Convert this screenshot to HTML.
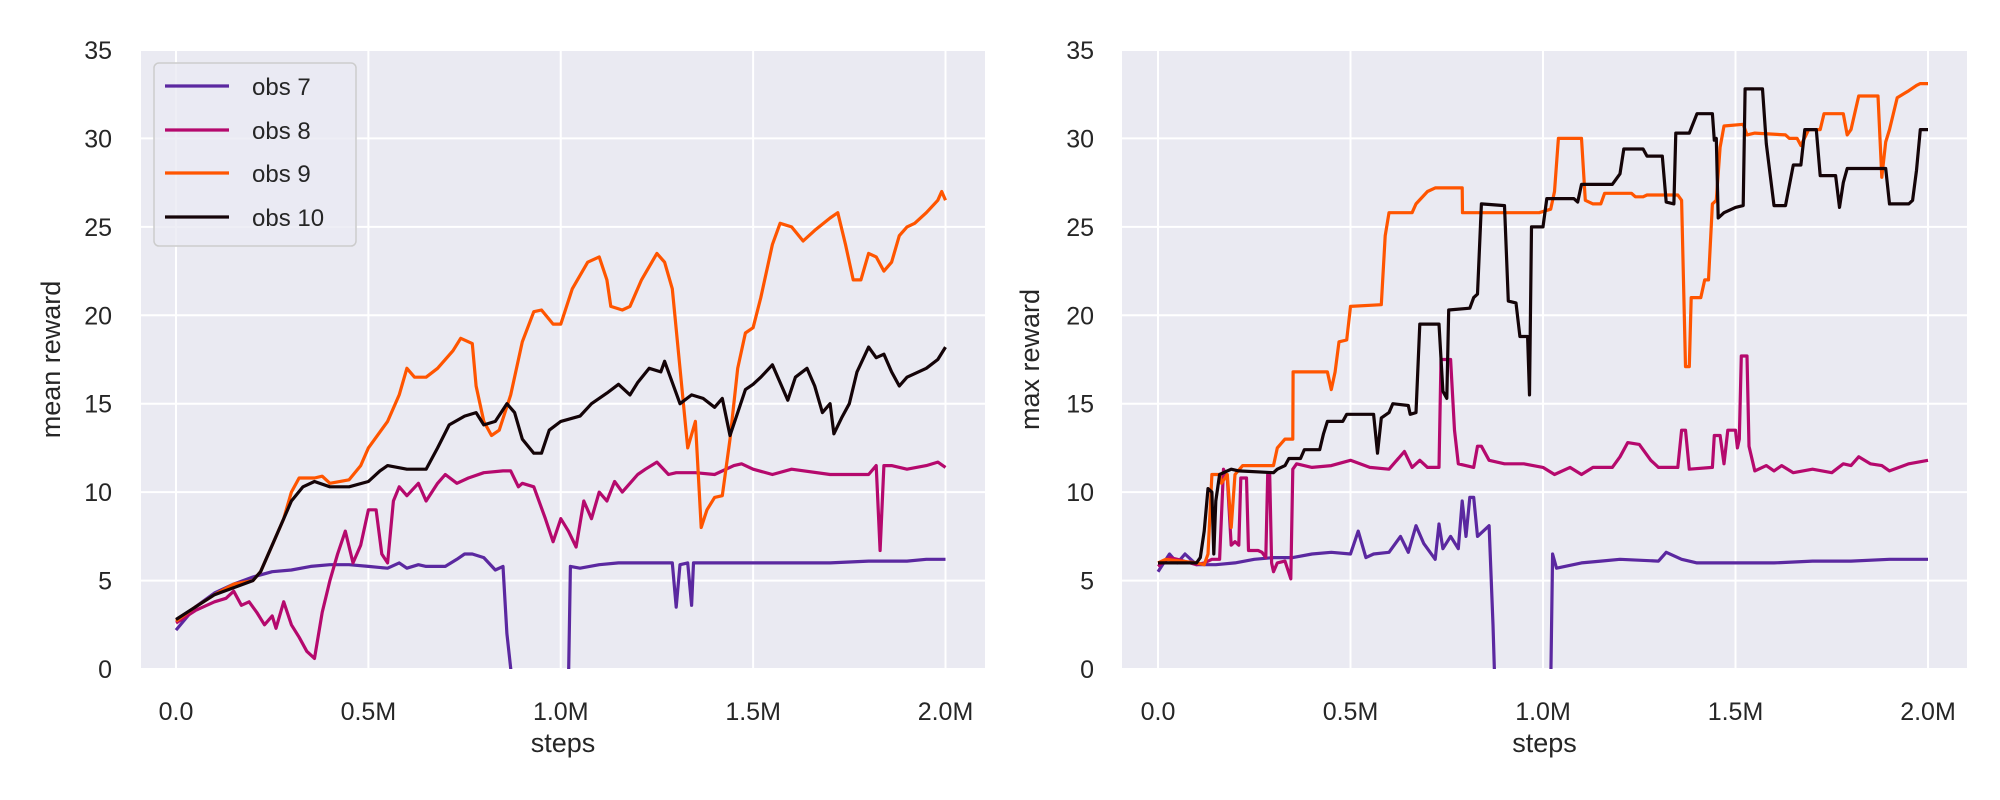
<!DOCTYPE html>
<html><head><meta charset="utf-8"><style>
html,body{margin:0;padding:0;background:#fff;}
svg{display:block;font-family:"Liberation Sans",sans-serif;}
</style></head><body>
<svg id="chart" width="2000" height="800" viewBox="0 0 2000 800"></svg>
<script>
const yTicks=[0,5,10,15,20,25,30,35];
const xTicks=[0,0.5,1.0,1.5,2.0];
const xTickLabels=["0.0","0.5M","1.0M","1.5M","2.0M"];
const seriesNames=["obs 7","obs 8","obs 9","obs 10"];
const seriesColors=["#5b28a0","#b5096d","#ff5500","#140408"];

// left: mean reward
const m7x=[0,0.05,0.1,0.15,0.2,0.25,0.3,0.35,0.4,0.45,0.5,0.55,0.58,0.6,0.63,0.65,0.7,0.73,0.75,0.77,0.8,0.83,0.85,0.86,0.875,1.02,1.025,1.05,1.1,1.15,1.2,1.29,1.3,1.31,1.33,1.34,1.345,1.4,1.5,1.6,1.7,1.8,1.9,1.95,2.0];
const m7y=[2.2,3.5,4.3,4.8,5.2,5.5,5.6,5.8,5.9,5.9,5.8,5.7,6.0,5.7,5.9,5.8,5.8,6.2,6.5,6.5,6.3,5.6,5.8,2.0,-1,-1,5.8,5.7,5.9,6.0,6.0,6.0,3.5,5.9,6.0,3.6,6.0,6.0,6.0,6.0,6.0,6.1,6.1,6.2,6.2];
const m8x=[0,0.05,0.1,0.13,0.15,0.17,0.19,0.21,0.23,0.25,0.26,0.28,0.3,0.32,0.34,0.36,0.38,0.4,0.42,0.44,0.46,0.48,0.5,0.52,0.535,0.55,0.565,0.58,0.6,0.63,0.65,0.68,0.7,0.73,0.76,0.8,0.85,0.87,0.89,0.9,0.93,0.96,0.98,1.0,1.02,1.04,1.06,1.08,1.1,1.12,1.14,1.16,1.2,1.22,1.25,1.28,1.3,1.35,1.4,1.45,1.47,1.5,1.55,1.6,1.7,1.8,1.82,1.83,1.84,1.86,1.9,1.95,1.98,2.0];
const m8y=[2.6,3.3,3.8,4.0,4.4,3.6,3.8,3.2,2.5,3.0,2.3,3.8,2.5,1.8,1.0,0.6,3.2,5.0,6.5,7.8,6.0,7.0,9.0,9.0,6.5,6.0,9.5,10.3,9.8,10.5,9.5,10.5,11,10.5,10.8,11.1,11.2,11.2,10.3,10.5,10.3,8.5,7.2,8.5,7.8,6.9,9.5,8.5,10,9.5,10.6,10,11,11.3,11.7,11.0,11.1,11.1,11.0,11.5,11.6,11.3,11,11.3,11.0,11.0,11.5,6.7,11.5,11.5,11.3,11.5,11.7,11.4];
const m9x=[0,0.05,0.1,0.15,0.2,0.22,0.25,0.28,0.3,0.32,0.36,0.38,0.4,0.45,0.48,0.5,0.55,0.58,0.6,0.62,0.65,0.68,0.72,0.74,0.77,0.78,0.8,0.82,0.84,0.87,0.9,0.93,0.95,0.98,1.0,1.03,1.07,1.1,1.12,1.13,1.16,1.18,1.21,1.25,1.27,1.29,1.31,1.33,1.35,1.365,1.38,1.4,1.42,1.44,1.46,1.48,1.5,1.52,1.55,1.57,1.6,1.63,1.66,1.7,1.72,1.74,1.76,1.78,1.8,1.82,1.84,1.86,1.88,1.9,1.92,1.95,1.98,1.99,2.0];
const m9y=[2.7,3.5,4.2,4.8,5.0,5.5,7.0,8.5,10.0,10.8,10.8,10.9,10.5,10.7,11.5,12.5,14,15.5,17,16.5,16.5,17,18,18.7,18.4,16,14,13.2,13.5,15.5,18.5,20.2,20.3,19.5,19.5,21.5,23,23.3,22,20.5,20.3,20.5,22,23.5,23,21.5,17,12.5,14,8,9,9.7,9.8,13,17,19,19.3,21,24,25.2,25,24.2,24.8,25.5,25.8,24,22,22,23.5,23.3,22.5,23,24.5,25,25.2,25.8,26.5,27,26.5];
const m10x=[0,0.1,0.2,0.22,0.25,0.28,0.3,0.33,0.36,0.4,0.45,0.5,0.53,0.55,0.6,0.65,0.68,0.71,0.75,0.78,0.8,0.83,0.86,0.88,0.9,0.93,0.95,0.97,1.0,1.05,1.08,1.12,1.15,1.18,1.2,1.23,1.26,1.27,1.29,1.31,1.34,1.37,1.4,1.42,1.44,1.46,1.48,1.5,1.52,1.55,1.57,1.59,1.61,1.64,1.66,1.68,1.7,1.71,1.73,1.75,1.77,1.8,1.82,1.84,1.86,1.88,1.9,1.95,1.98,2.0];
const m10y=[2.8,4.2,5.0,5.5,7,8.5,9.5,10.3,10.6,10.3,10.3,10.6,11.2,11.5,11.3,11.3,12.5,13.8,14.3,14.5,13.8,14,15,14.5,13,12.2,12.2,13.5,14,14.3,15,15.6,16.1,15.5,16.2,17,16.8,17.4,16.2,15,15.5,15.3,14.8,15.3,13.2,14.5,15.8,16.1,16.5,17.2,16.2,15.2,16.5,17,16,14.5,15,13.3,14.2,15,16.8,18.2,17.6,17.8,16.8,16,16.5,17,17.5,18.2];

// right: max reward
const x7x=[0,0.03,0.05,0.07,0.1,0.15,0.2,0.25,0.3,0.35,0.4,0.45,0.5,0.52,0.54,0.56,0.6,0.63,0.65,0.67,0.69,0.72,0.73,0.74,0.76,0.78,0.79,0.8,0.81,0.82,0.83,0.86,0.87,0.875,1.02,1.025,1.035,1.1,1.15,1.2,1.3,1.32,1.34,1.36,1.4,1.5,1.6,1.7,1.8,1.9,2.0];
const x7y=[5.5,6.5,6.0,6.5,5.9,5.9,6.0,6.2,6.3,6.3,6.5,6.6,6.5,7.8,6.3,6.5,6.6,7.5,6.6,8.1,7.1,6.2,8.2,6.8,7.5,6.8,9.5,7.5,9.7,9.7,7.5,8.1,2.5,-1,-1,6.5,5.7,6.0,6.1,6.2,6.1,6.6,6.4,6.2,6.0,6.0,6.0,6.1,6.1,6.2,6.2];
const x8x=[0,0.03,0.05,0.1,0.12,0.14,0.16,0.17,0.18,0.19,0.2,0.21,0.215,0.23,0.235,0.26,0.27,0.28,0.285,0.29,0.295,0.3,0.31,0.33,0.345,0.35,0.36,0.4,0.45,0.5,0.55,0.6,0.64,0.66,0.68,0.7,0.73,0.735,0.76,0.77,0.78,0.82,0.83,0.84,0.86,0.9,0.95,1.0,1.03,1.07,1.1,1.13,1.18,1.2,1.22,1.25,1.28,1.3,1.35,1.36,1.37,1.38,1.44,1.445,1.46,1.47,1.48,1.5,1.505,1.51,1.515,1.53,1.535,1.55,1.58,1.6,1.62,1.65,1.7,1.75,1.78,1.8,1.82,1.85,1.88,1.9,1.95,2.0];
const x8y=[5.8,6.3,6.2,5.9,6.0,6.2,6.2,11.3,10.8,7.0,7.2,7.0,10.8,10.8,6.7,6.7,6.6,6.3,11.0,11,6.0,5.5,6.0,6.1,5.1,11.3,11.6,11.4,11.5,11.8,11.4,11.3,12.3,11.4,11.8,11.4,11.4,17.5,17.5,13.5,11.6,11.4,12.6,12.6,11.8,11.6,11.6,11.4,11.0,11.4,11.0,11.4,11.4,12.0,12.8,12.7,11.8,11.4,11.4,13.5,13.5,11.3,11.4,13.2,13.2,11.6,13.5,13.5,12.5,13.0,17.7,17.7,12.6,11.2,11.5,11.2,11.5,11.1,11.3,11.1,11.6,11.5,12.0,11.6,11.5,11.2,11.6,11.8];
const x9x=[0,0.02,0.1,0.12,0.13,0.14,0.16,0.165,0.18,0.19,0.2,0.22,0.3,0.31,0.33,0.35,0.351,0.44,0.45,0.46,0.47,0.49,0.5,0.58,0.59,0.6,0.66,0.67,0.7,0.72,0.79,0.791,0.99,1.02,1.03,1.04,1.1,1.11,1.13,1.15,1.16,1.23,1.24,1.26,1.27,1.35,1.36,1.37,1.38,1.385,1.41,1.42,1.43,1.44,1.45,1.46,1.47,1.52,1.53,1.55,1.63,1.64,1.66,1.67,1.69,1.72,1.73,1.78,1.79,1.8,1.82,1.87,1.88,1.89,1.9,1.92,1.95,1.97,1.98,2.0];
const x9y=[6,6.2,6.0,5.9,6.5,11,11,10.5,11,8,11,11.5,11.5,12.5,13,13,16.8,16.8,15.8,16.8,18.5,18.6,20.5,20.6,24.5,25.8,25.8,26.3,27,27.2,27.2,25.8,25.8,26,27,30,30,26.5,26.3,26.3,26.9,26.9,26.7,26.7,26.8,26.8,26.5,17.1,17.1,21,21,22,22,26.3,26.5,29.5,30.7,30.8,30.2,30.3,30.2,30,30,29.6,30.5,30.5,31.4,31.4,30.2,30.5,32.4,32.4,27.8,29.8,30.5,32.3,32.7,33.0,33.1,33.1];
const x10x=[0,0.1,0.11,0.12,0.13,0.14,0.145,0.15,0.16,0.19,0.21,0.3,0.31,0.33,0.34,0.37,0.38,0.42,0.43,0.44,0.48,0.49,0.56,0.57,0.58,0.6,0.61,0.65,0.655,0.67,0.68,0.73,0.74,0.75,0.755,0.81,0.82,0.83,0.84,0.9,0.91,0.93,0.94,0.96,0.965,0.97,1.0,1.01,1.08,1.09,1.1,1.18,1.2,1.21,1.26,1.27,1.31,1.32,1.34,1.345,1.38,1.4,1.44,1.445,1.45,1.455,1.47,1.5,1.52,1.525,1.57,1.58,1.6,1.63,1.65,1.67,1.68,1.71,1.72,1.76,1.77,1.78,1.79,1.89,1.9,1.95,1.96,1.97,1.98,2.0];
const x10y=[6,6.0,6.3,7.8,10.2,10,6.5,9.5,11,11.3,11.2,11.1,11.3,11.5,11.9,11.9,12.4,12.4,13.3,14,14,14.4,14.4,12.2,14.2,14.5,15,14.9,14.4,14.5,19.5,19.5,15.7,15.3,20.3,20.4,21,21.2,26.3,26.2,20.8,20.7,18.8,18.8,15.5,25,25,26.6,26.6,26.4,27.4,27.4,28,29.4,29.4,29.0,29,26.4,26.3,30.3,30.3,31.4,31.4,29.9,30,25.5,25.8,26.1,26.2,32.8,32.8,29.7,26.2,26.2,28.5,28.5,30.5,30.5,27.9,27.9,26.1,27.5,28.3,28.3,26.3,26.3,26.5,28.2,30.5,30.5];

const NS="http://www.w3.org/2000/svg";
const svg=document.getElementById('chart');
function mk(tag,attrs,parent){const e=document.createElementNS(NS,tag);for(const k in attrs)e.setAttribute(k,attrs[k]);(parent||svg).appendChild(e);return e;}

const panels=[
 {id:'mean',left:141,right:985,x0:176,x2:945.5,ylab:'mean reward',ylx:60,tickRight:112,
  series:[[m7x,m7y],[m8x,m8y],[m9x,m9y],[m10x,m10y]],legend:true},
 {id:'max',left:1122,right:1967,x0:1158,x2:1928,ylab:'max reward',ylx:1039,tickRight:1094,
  series:[[x7x,x7y],[x8x,x8y],[x9x,x9y],[x10x,x10y]],legend:false}
];
const plotTop=50,plotBottom=669;
panels.forEach((p,pi)=>{
  const xs=v=>p.x0+(v/2)*(p.x2-p.x0);
  const ys=v=>plotBottom-(v/35)*(plotBottom-plotTop);
  const g=mk('g',{});
  
  
  const bg=mk('rect',{x:p.left,y:plotTop,width:p.right-p.left,height:plotBottom-plotTop,fill:'#eaeaf2'},g);
  
  
  yTicks.forEach(t=>{
    const l=mk('line',{x1:p.left,x2:p.right,y1:ys(t),y2:ys(t),stroke:'#fff','stroke-width':2},g);
    
    
    const tx=mk('text',{x:p.tickRight,y:ys(t)+9,'text-anchor':'end','font-size':25,fill:'#262626'},g);
    tx.textContent=t;
    
    
  });
  xTicks.forEach((t,i)=>{
    const l=mk('line',{x1:xs(t),x2:xs(t),y1:plotTop,y2:plotBottom,stroke:'#fff','stroke-width':2},g);
    
    
    const tx=mk('text',{x:xs(t),y:720,'text-anchor':'middle','font-size':25,fill:'#262626'},g);
    tx.textContent=xTickLabels[i];
    
    
  });
  const cp=mk('clipPath',{id:'clip'+pi},g);
  mk('rect',{x:p.left,y:plotTop,width:p.right-p.left,height:plotBottom-plotTop},cp);
  p.series.forEach((s,si)=>{
    const d=s[0].map((x,i)=>(i?'L':'M')+xs(x).toFixed(1)+','+ys(s[1][i]).toFixed(1)).join('');
    const path=mk('path',{d:d,fill:'none',stroke:seriesColors[si],'stroke-width':3.2,'stroke-linejoin':'round','clip-path':'url(#clip'+pi+')'},g);
    
    
  });
  const xl=mk('text',{x:(p.left+p.right)/2,y:752,'text-anchor':'middle','font-size':27,fill:'#262626'},g);
  xl.textContent='steps';
  
  
  const yl=mk('text',{x:p.ylx,y:(plotTop+plotBottom)/2,'text-anchor':'middle','font-size':27,fill:'#262626',transform:'rotate(-90 '+p.ylx+' '+((plotTop+plotBottom)/2)+')'},g);
  yl.textContent=p.ylab;
  
  
  if(p.legend){
    const lg=mk('g',{},g);
    
    
    mk('rect',{x:154,y:63,width:202,height:183,rx:5,fill:'#eaeaf2','fill-opacity':0.8,stroke:'#cccccc','stroke-width':1.5},lg);
    const ey=[86,130,173,217];
    seriesNames.forEach((n,i)=>{
      const e=mk('g',{},lg);
      
      
      mk('line',{x1:165,x2:229,y1:ey[i],y2:ey[i],stroke:seriesColors[i],'stroke-width':3.2},e);
      const t=mk('text',{x:252,y:ey[i]+9,'font-size':24,fill:'#262626'},e);
      t.textContent=n;
    });
  }
});
</script>
</body></html>
